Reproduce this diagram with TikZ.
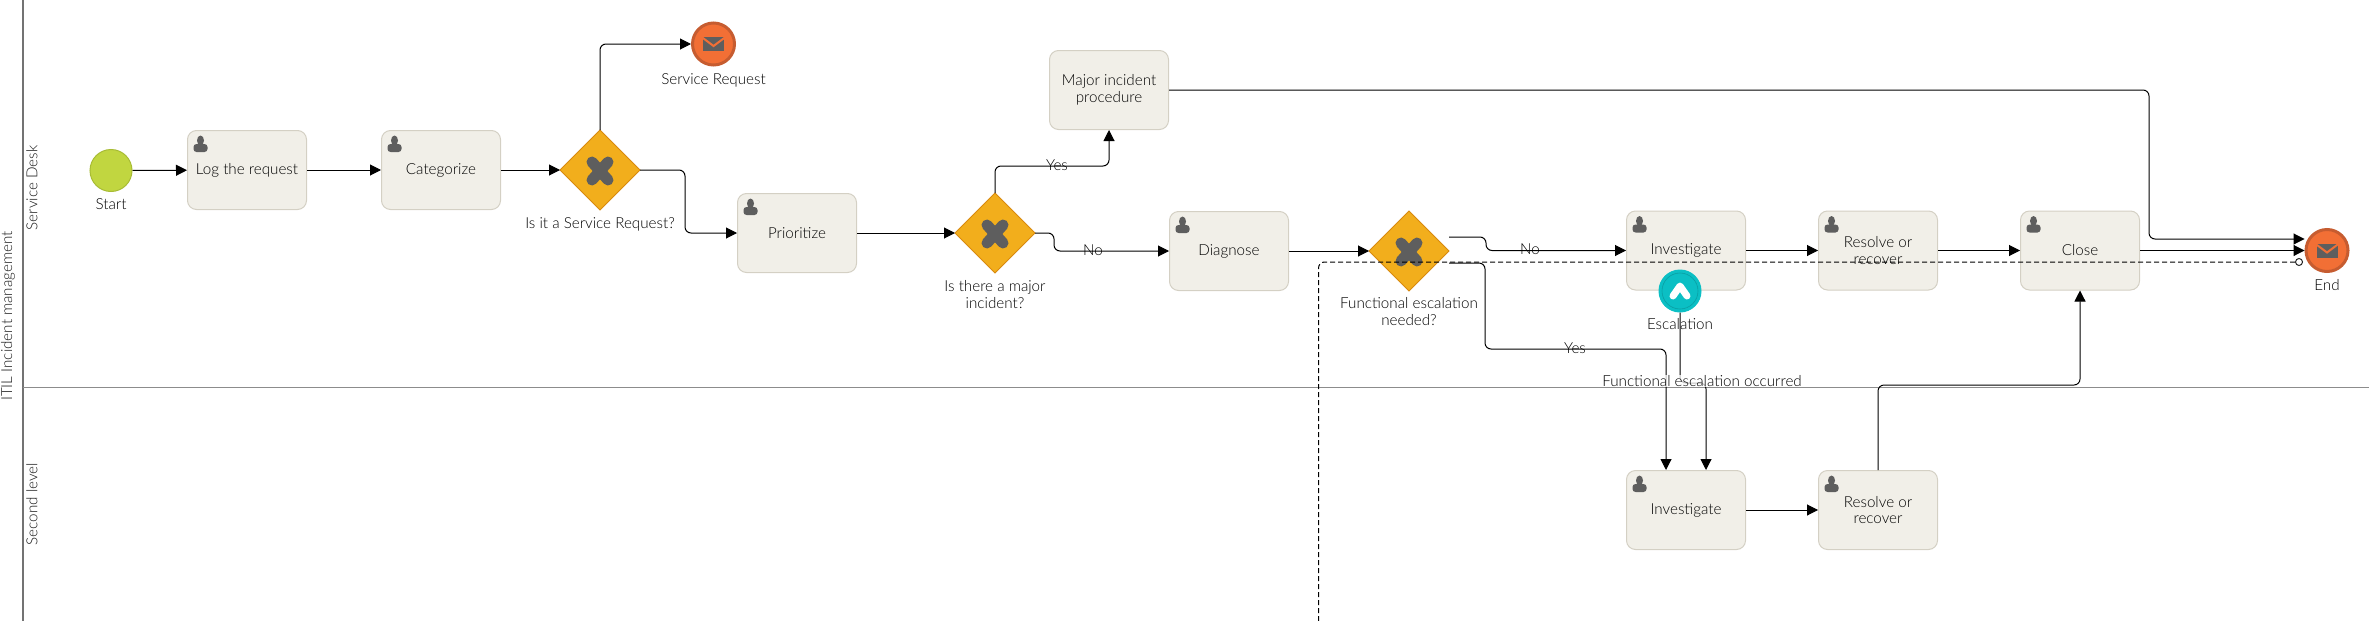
\documentclass[tikz,border=0pt]{standalone}
\usepackage{fontspec}
\setmainfont{Lato}[UprightFont=* Light]
\usetikzlibrary{calc,arrows.meta,shapes.geometric}
\definecolor{taskfill}{HTML}{F1EFE8}
\definecolor{taskline}{HTML}{D4D0C4}
\definecolor{gatefill}{HTML}{F2AE1C}
\definecolor{gateline}{HTML}{D8890F}
\definecolor{icongray}{HTML}{5E5E5E}
\definecolor{startfill}{HTML}{C1D640}
\definecolor{startline}{HTML}{A8BC35}
\definecolor{endfill}{HTML}{F26F35}
\definecolor{endline}{HTML}{C65C30}
\definecolor{tealfill}{HTML}{0BBFC4}
\definecolor{tealline}{HTML}{0A9EA3}
\newcommand{\labelfont}{\fontsize{15.2}{16.5}\selectfont}
\tikzset{
	taskbox/.style={draw=taskline, fill=taskfill, line width=1pt, rounded corners=9pt, minimum width=119pt, minimum height=79pt, inner sep=0pt, outer sep=0.5pt, align=center, font=\labelfont},
	gatebox/.style={diamond, draw=gateline, fill=gatefill, line width=1pt, minimum width=80pt, minimum height=80pt, inner sep=0pt, outer sep=0pt},
	startdot/.style={circle, draw=startline, fill=startfill, line width=1pt, minimum size=42pt, inner sep=0pt, outer sep=0.5pt},
	enddot/.style={circle, draw=endline, fill=endfill, line width=3pt, minimum size=42pt, inner sep=0pt, outer sep=1.5pt},
	escdot/.style={circle, draw=tealfill, fill=tealfill, line width=1pt, minimum size=42pt, inner sep=0pt, outer sep=0.5pt},
	msgdot/.style={circle, draw=black!85, fill=white, line width=1pt, minimum size=7pt, inner sep=0pt, outer sep=0.5pt},
	lbl/.style={inner sep=0pt, align=center, text=black, font=\labelfont},
	lanelbl/.style={inner sep=0pt, rotate=90, text=black!90, font=\labelfont},
	flow/.style={line width=1pt, color=black, rounded corners=6pt, -{Triangle[length=11pt,width=11pt]}},
	msgflow/.style={line width=1pt, color=black, rounded corners=6pt, dash pattern=on 5pt off 3pt},
}
\def\usericon(#1){\fill[icongray] ($(#1.north west)+(13.5,10.5)$) ellipse (3.5pt and 5pt); \fill[icongray, rounded corners=3pt] ($(#1.north west)+(6.5,22)$) -- ++(0,-8) -- ++(14,0) -- ++(0,8) -- cycle;}
\def\gatecross(#1){\draw[icongray, line width=11pt, line cap=round] ($(#1.center)+(-8,-8)$) -- ($(#1.center)+(8,10)$); \draw[icongray, line width=11pt, line cap=round] ($(#1.center)+(8,-8)$) -- ($(#1.center)+(-8,10)$);}
\def\mailicon(#1){\fill[icongray] ($(#1.center)+(-10.5,-7)$) rectangle ($(#1.center)+(10.5,7)$); \draw[endfill, line width=2pt] ($(#1.center)+(-12,-7)$) -- ($(#1.center)+(0,2)$) -- ($(#1.center)+(12,-7)$);}

\begin{document}
\begin{tikzpicture}[x=1pt, y=-1pt]
		%%%%% START %%%%%
		\useasboundingbox (0, 0) rectangle (2369, 621);
		
		\draw[line width=1.5pt, color=black!55] (23, 0) -- (23, 621);
		\draw[line width=1pt, color=black!45] (23, 387.5) -- (2369, 387.5);
		
		\node[lanelbl] (lanemain) at (8, 316) {ITIL Incident management};
		\node[lanelbl] (lanedesk) at (32, 188) {Service Desk};
		\node[lanelbl] (lanesecond) at (32, 504) {Second level};
		
		\node[startdot] (start) at (111, 170.5) {};
		\node[taskbox] (log) at (247, 170) {Log the request};
		\node[taskbox] (categorize) at (441, 170) {Categorize};
		\node[gatebox] (gaterequest) at (600, 170) {};
		\node[enddot] (request) at (713.5, 44) {};
		\node[taskbox] (prioritize) at (797, 233) {Prioritize};
		\node[gatebox] (gatemajor) at (995, 233) {};
		\node[taskbox] (major) at (1109, 90) {Major incident\\procedure};
		\node[taskbox] (diagnose) at (1229, 251) {Diagnose};
		\node[gatebox] (gateescal) at (1409, 251) {};
		\node[taskbox] (investigate) at (1686, 250.5) {Investigate};
		\node[taskbox] (resolve) at (1878, 250.5) {Resolve or\\recover};
		\node[taskbox] (close) at (2080, 250.5) {Close};
		\node[enddot] (end) at (2327, 250.5) {};
		\node[taskbox] (investigatetwo) at (1686, 510) {Investigate};
		\node[taskbox] (resolvetwo) at (1878, 510) {Resolve or\\recover};
		
		\usericon(log)
		\usericon(categorize)
		\usericon(prioritize)
		\usericon(diagnose)
		\usericon(investigate)
		\usericon(resolve)
		\usericon(close)
		\usericon(investigatetwo)
		\usericon(resolvetwo)
		
		\gatecross(gaterequest)
		\gatecross(gatemajor)
		\gatecross(gateescal)
		
		\mailicon(request)
		\mailicon(end)
		
		\node[lbl] (startlbl) at (111, 204) {Start};
		\node[lbl] (requestlbl) at (713.5, 80) {Service Request};
		\node[lbl] (gaterequestlbl) at (600, 224) {Is it a Service Request?};
		\node[lbl] (gatemajorlbl) at (995, 294.5) {Is there a major\\incident?};
		\node[lbl] (gateescallbl) at (1409, 311.5) {Functional escalation\\needed?};
		\node[lbl] (escallbl) at (1680, 324) {Escalation};
		\node[lbl] (endlbl) at (2327, 285) {End};
		
		\coordinate (noout) at (1449, 237);
		\coordinate (yesout) at (1449, 263);
		\coordinate (yesin) at ($(investigatetwo.north)+(-20,0)$);
		\coordinate (escin) at ($(investigatetwo.north)+(20,0)$);
		\coordinate (msgfoot) at (1318.5, 621);
		
		\draw[flow] (start) -- (log);
		\draw[flow] (log) -- (categorize);
		\draw[flow] (categorize) -- (gaterequest);
		\draw[flow] (gaterequest.north) |- (request.west);
		\draw[flow] (gaterequest.east) -- (685, 170) |- (prioritize.west);
		\draw[flow] (prioritize) -- (gatemajor);
		\draw[flow] (gatemajor.north) |- (1109, 166) -- (major.south);
		\draw[flow] (gatemajor.east) -- (1054, 233) |- (diagnose.west);
		\draw[flow] (diagnose) -- (gateescal);
		\draw[flow] (noout) -- (1486, 237) |- (investigate.west);
		\draw[flow] (yesout) -- (1485, 263) |- (1666, 349) -- (yesin);
		\draw[flow] (investigate) -- (resolve);
		\draw[flow] (resolve) -- (close);
		\draw[flow] (close) -- (end);
		\draw[flow] (major.east) -- (2149, 90) |- ($(end.west)+(0,-11.5)$);
		\draw[flow] (investigatetwo) -- (resolvetwo);
		\draw[flow] (resolvetwo.north) |- (2080, 385) -- (close.south);
		
		\node[escdot] (escal) at (1680, 291) {};
		\draw[tealline, line width=0.6pt] (escal.center) circle (18pt);
		\draw[white, line width=7pt, line cap=round, line join=round] ($(escal.center)+(-7,5)$) -- ($(escal.center)+(0,-5)$) -- ($(escal.center)+(7,5)$);
		\draw[flow] (escal.south) -- (1680, 383) -| (escin);
		
		\node[lbl, fill=white, fill opacity=0.75, text opacity=1] (esclbl) at (1702, 381) {Functional escalation occurred};
		\node[lbl] (yesmajor) at (1057, 165) {Yes};
		\node[lbl] (nomajor) at (1093, 250) {No};
		\node[lbl] (noescal) at (1530, 249) {No};
		\node[lbl] (yesescal) at (1575, 348) {Yes};
		
		\node[msgdot] (msgend) at (2299, 262) {};
		\draw[msgflow] (msgfoot) |- (msgend.west);
		
		%%%%% END %%%%%
	\end{tikzpicture}
\end{document}
